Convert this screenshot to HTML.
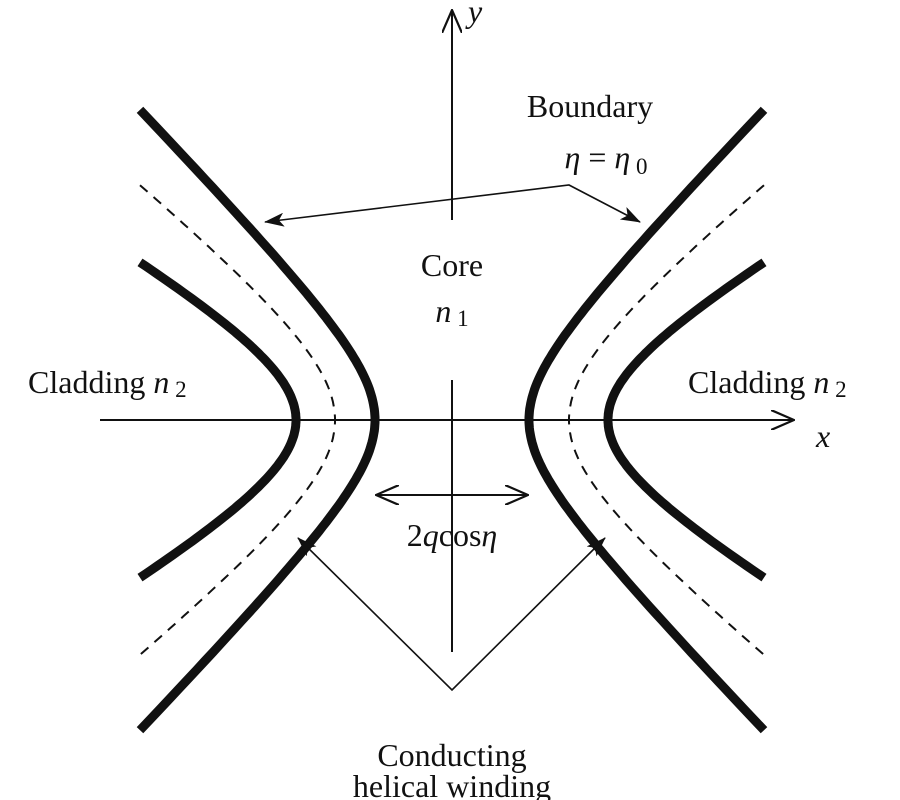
<!DOCTYPE html>
<html><head><meta charset="utf-8"><style>
html,body{margin:0;padding:0;background:#fff;width:900px;height:800px;overflow:hidden}
svg text{font-family:"Liberation Serif",serif;fill:#111}
</style></head><body>
<svg id="s" width="900" height="800" viewBox="0 0 900 800" xmlns="http://www.w3.org/2000/svg">
<defs>
<marker id="ah" viewBox="0 0 20 14" refX="19" refY="7" markerWidth="20" markerHeight="14" markerUnits="userSpaceOnUse" orient="auto-start-reverse">
<path d="M0,0 L20,7 L0,14 L5,7 Z" fill="#111"/></marker>
<marker id="ao" viewBox="0 0 24 20" refX="23" refY="10" markerWidth="24" markerHeight="20" markerUnits="userSpaceOnUse" orient="auto-start-reverse">
<path d="M0,0 L23,10 L0,20" fill="none" stroke="#111" stroke-width="2.2"/></marker>
</defs>
<g stroke="#111" fill="none">
<line x1="452" y1="220" x2="452" y2="10" stroke-width="2" marker-end="url(#ao)"/>
<line x1="452" y1="380" x2="452" y2="652" stroke-width="2"/>
<line x1="100" y1="420" x2="794" y2="420" stroke-width="2" marker-end="url(#ao)"/>
<g id="curves" stroke-width="9"></g>
<polyline points="265,222 569,185 640,222" stroke-width="1.6" marker-start="url(#ah)" marker-end="url(#ah)"/>
<polyline points="298,538 452,690 605,538" stroke-width="1.6" marker-start="url(#ah)" marker-end="url(#ah)"/>
<line x1="376" y1="495" x2="528" y2="495" stroke-width="2" marker-start="url(#ao)" marker-end="url(#ao)"/>
</g>
<text x="468" y="22" font-size="32" font-style="italic">y</text>
<text x="816" y="447" font-size="32" font-style="italic">x</text>
<text x="590" y="117" font-size="32" text-anchor="middle">Boundary</text>
<text x="606" y="168" font-size="32" text-anchor="middle"><tspan font-style="italic">η</tspan> = <tspan font-style="italic">η</tspan><tspan font-size="23" dy="6"> 0</tspan></text>
<text x="452" y="276" font-size="32" text-anchor="middle">Core</text>
<text x="452" y="322" font-size="32" text-anchor="middle"><tspan font-style="italic">n</tspan><tspan font-size="23" dy="4"> 1</tspan></text>
<text x="28" y="393" font-size="32">Cladding <tspan font-style="italic">n</tspan><tspan font-size="23" dy="4"> 2</tspan></text>
<text x="688" y="393" font-size="32">Cladding <tspan font-style="italic">n</tspan><tspan font-size="23" dy="4"> 2</tspan></text>
<text x="452" y="546" font-size="32" text-anchor="middle">2<tspan font-style="italic">q</tspan>cos<tspan font-style="italic">η</tspan></text>
<text x="452" y="766" font-size="32" text-anchor="middle">Conducting</text>
<text x="452" y="797" font-size="32" text-anchor="middle">helical winding</text>
</svg>
<script>
(function(){
var g=document.getElementById('curves');var ns='http://www.w3.org/2000/svg';
var cx=452,cy=420;
function hyp(a,b,xoff,side,dash,sw){
 var T=Math.acosh(xoff/a);var d='';
 for(var i=0;i<=120;i++){var t=-T+2*T*i/120;var x=cx+side*a*Math.cosh(t);var y=cy+b*Math.sinh(t);
 d+=(i?'L':'M')+x.toFixed(1)+','+y.toFixed(1);}
 var p=document.createElementNS(ns,'path');p.setAttribute('d',d);
 if(dash){p.setAttribute('stroke-width','2');p.setAttribute('stroke-dasharray','10,8');}
 else p.setAttribute('stroke-width',sw||'9');
 g.appendChild(p);}
[-1,1].forEach(function(s){
 hyp(77,79,312,s,false);hyp(156,91,312,s,false);hyp(117,95,312,s,true);});
})();
</script>
</body></html>
